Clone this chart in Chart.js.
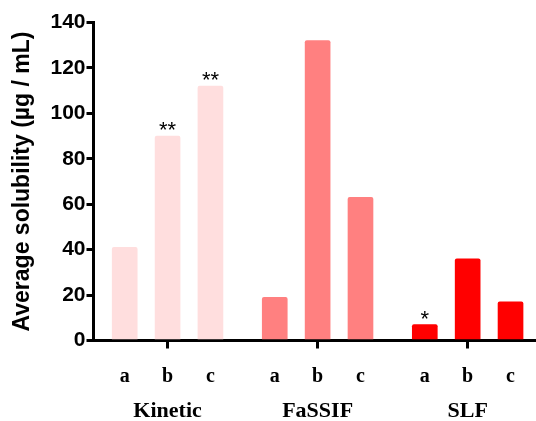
<!DOCTYPE html>
<html><head><meta charset="utf-8">
<script src="https://cdn.jsdelivr.net/npm/chart.js@4"></script>
<style>html,body{margin:0;padding:0;background:#fff}#wrap{width:536px;height:421px;position:relative}</style>
</head><body><div id="wrap"><canvas id="c"></canvas></div>
<script>
const groups = ['Kinetic', 'FaSSIF', 'SLF'];
const subLabels = ['a', 'b', 'c'];
const kineticValues = [41, 90, 112];
const fassifValues = [19, 132, 63];
const slfValues = [7, 36, 17];
const kineticMarks = ['', '**', '**'];
const fassifMarks = ['', '', ''];
const slfMarks = ['*', '', ''];
const yTicks = [0, 20, 40, 60, 80, 100, 120, 140];

const groupValues = [kineticValues, fassifValues, slfValues];
const groupMarks = [kineticMarks, fassifMarks, slfMarks];
const groupColors = ['#FFDEDE', '#FF8080', '#FF0000'];
const GROUP_STEP = 3.5;

const points = [], colors = [], marks = [], tickPos = [], tickText = [], groupPos = [];
groupValues.forEach((vals, g) => {
  vals.forEach((v, s) => {
    const x = g * GROUP_STEP + s;
    points.push({x: x, y: v});
    colors.push(groupColors[g]);
    marks.push(groupMarks[g][s]);
    tickPos.push(x);
    tickText.push(subLabels[s]);
  });
  groupPos.push(g * GROUP_STEP + 1);
});

const starPlugin = {
  id: 'stars',
  afterDatasetsDraw(chart) {
    const ctx = chart.ctx;
    const meta = chart.getDatasetMeta(0);
    ctx.save();
    ctx.fillStyle = '#000';
    ctx.font = '22px "Liberation Sans", Arial, sans-serif';
    ctx.textAlign = 'center';
    ctx.textBaseline = 'alphabetic';
    meta.data.forEach((bar, i) => {
      if (marks[i]) ctx.fillText(marks[i], bar.x, bar.y + 1);
    });
    ctx.restore();
  }
};

new Chart(document.getElementById('c'), {
  type: 'bar',
  data: {
    datasets: [{
      data: points,
      backgroundColor: colors,
      borderWidth: 0,
      borderRadius: 2,
      borderSkipped: 'start',
      barThickness: 25,
      grouped: false,
      xAxisID: 'x',
      yAxisID: 'y'
    }]
  },
  options: {
    responsive: true,
    maintainAspectRatio: false,
    animation: false,
    layout: {padding: {top: 22.5, right: 0, left: 0, bottom: 0}},
    plugins: {legend: {display: false}, tooltip: {enabled: false}},
    scales: {
      x: {
        type: 'linear',
        position: 'bottom',
        offset: false,
        weight: 0,
        min: -0.728,
        max: 9.594,
        afterBuildTicks(scale) { scale.ticks = tickPos.map(v => ({value: v})); },
        afterFit(scale) { scale.height = 44; },
        ticks: {
          autoSkip: false,
          maxRotation: 0,
          padding: 16,
          color: '#000',
          font: {family: '"Liberation Serif", "Times New Roman", serif', size: 20, weight: 'bold'},
          callback: (v, i) => tickText[i]
        },
        grid: {
          offset: false,
          drawOnChartArea: false,
          drawTicks: true,
          tickLength: 8,
          tickWidth: 3,
          lineWidth: 3,
          tickColor: (ctx) => (ctx.index % 3 === 1 ? '#000' : 'rgba(0,0,0,0)')
        },
        border: {display: true, color: '#000', width: 3}
      },
      groupX: {
        type: 'linear',
        position: 'bottom',
        offset: false,
        weight: 1,
        min: -0.728,
        max: 9.594,
        afterBuildTicks(scale) { scale.ticks = groupPos.map(v => ({value: v})); },
        afterFit(scale) { scale.height = 36.5; },
        ticks: {
          autoSkip: false,
          maxRotation: 0,
          padding: 14,
          color: '#000',
          font: {family: '"Liberation Serif", "Times New Roman", serif', size: 22, weight: 'bold'},
          callback: (v, i) => groups[i]
        },
        grid: {display: false, drawTicks: false, offset: false},
        border: {display: false}
      },
      y: {
        type: 'linear',
        min: 0,
        max: 140,
        afterBuildTicks(scale) { scale.ticks = yTicks.map(v => ({value: v})); },
        afterFit(scale) { scale.width = 93.5; },
        ticks: {
          padding: 1,
          color: '#000',
          font: {family: '"Liberation Sans", Arial, sans-serif', size: 21, weight: 'bold'}
        },
        grid: {
          drawOnChartArea: false,
          drawTicks: true,
          tickLength: 7,
          tickWidth: 3,
          lineWidth: 3,
          tickColor: '#000'
        },
        border: {display: true, color: '#000', width: 3},
        title: {
          display: true,
          text: 'Average solubility (µg / mL)',
          color: '#000',
          padding: {top: 9, bottom: 0},
          font: {family: '"Liberation Sans", Arial, sans-serif', size: 23, weight: 'bold'}
        }
      }
    }
  },
  plugins: [starPlugin]
});
</script>
</body></html>
